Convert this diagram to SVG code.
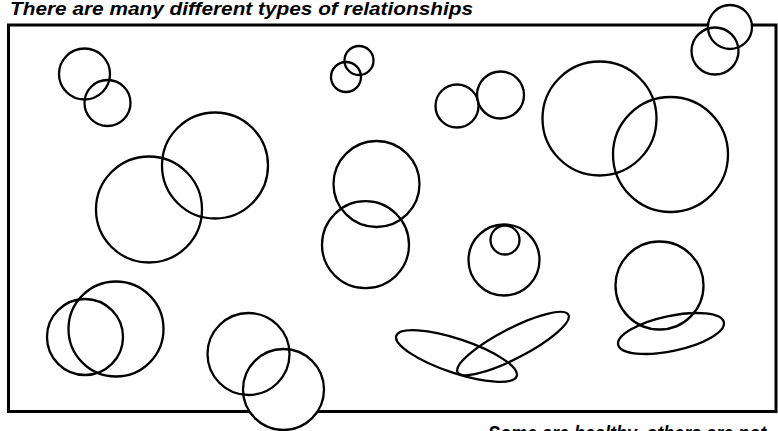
<svg xmlns="http://www.w3.org/2000/svg" width="778" height="431" viewBox="0 0 778 431">
<style>
.o{fill:none;stroke:#000;stroke-width:2.3}
.w{fill:#fff;stroke:none}
.t{font-family:"Liberation Sans",Arial,sans-serif;font-weight:bold;font-style:italic;font-size:18px;fill:#000}
</style>
<rect width="778" height="431" fill="#fff"/>
<text class="t" transform="translate(10,14.5) scale(1,1.05)" x="0" y="0" textLength="463" lengthAdjust="spacingAndGlyphs">There are many different types of relationships</text>
<rect id="frame" x="8.5" y="25" width="767.5" height="386.5" fill="none" stroke="#000" stroke-width="3"/>
<g id="covers">
<circle class="w" cx="730" cy="27" r="22"/>
<circle class="w" cx="715" cy="51" r="23.5"/>
<circle class="w" cx="283.5" cy="389.5" r="40.5"/>
</g>
<g id="pair-touching-small">
<circle class="o" cx="84.5" cy="74" r="25.5"/>
<circle class="o" cx="107.5" cy="103" r="23"/>
</g>
<g id="pair-large-left">
<circle class="o" cx="149" cy="209.5" r="53"/>
<circle class="o" cx="215" cy="165.5" r="53"/>
</g>
<g id="pair-tiny">
<circle class="o" cx="346" cy="77" r="15"/>
<circle class="o" cx="359" cy="60.5" r="14.5"/>
</g>
<g id="pair-tangent">
<circle class="o" cx="457" cy="106" r="21.5"/>
<circle class="o" cx="500.5" cy="95" r="23.5"/>
</g>
<g id="pair-large-right">
<circle class="o" cx="599.5" cy="118.5" r="57"/>
<circle class="o" cx="670.5" cy="154.5" r="57.5"/>
</g>
<g id="pair-corner">
<circle class="o" cx="730" cy="27" r="22"/>
<circle class="o" cx="715" cy="51" r="23.5"/>
</g>
<g id="pair-stacked">
<circle class="o" cx="376.5" cy="184" r="43"/>
<circle class="o" cx="365.5" cy="244.7" r="43.5"/>
</g>
<g id="pair-nested">
<circle class="o" cx="504" cy="260" r="35.5"/>
<circle class="o" cx="505" cy="240" r="14.5"/>
</g>
<g id="pair-circle-ellipse">
<circle class="o" cx="659.5" cy="285.5" r="44"/>
<ellipse class="o" cx="671" cy="333.5" rx="54" ry="17.5" transform="rotate(-12 671 333.5)"/>
</g>
<g id="pair-overlap-bottom-left">
<circle class="o" cx="85" cy="337" r="38"/>
<circle class="o" cx="116" cy="329" r="47.5"/>
</g>
<g id="pair-bottom-middle">
<circle class="o" cx="248.5" cy="354" r="41"/>
<circle class="o" cx="283.5" cy="389.5" r="40.5"/>
</g>
<g id="pair-ellipses">
<ellipse class="o" cx="456.5" cy="356" rx="63.5" ry="17" transform="rotate(18.5 456.5 356)"/>
<ellipse class="o" cx="513" cy="343.5" rx="62.4" ry="15" transform="rotate(-27.4 513 343.5)"/>
</g>
<text class="t" transform="translate(488,441) scale(1,1.25)" x="0" y="0">Some are healthy, others are not</text>
</svg>
